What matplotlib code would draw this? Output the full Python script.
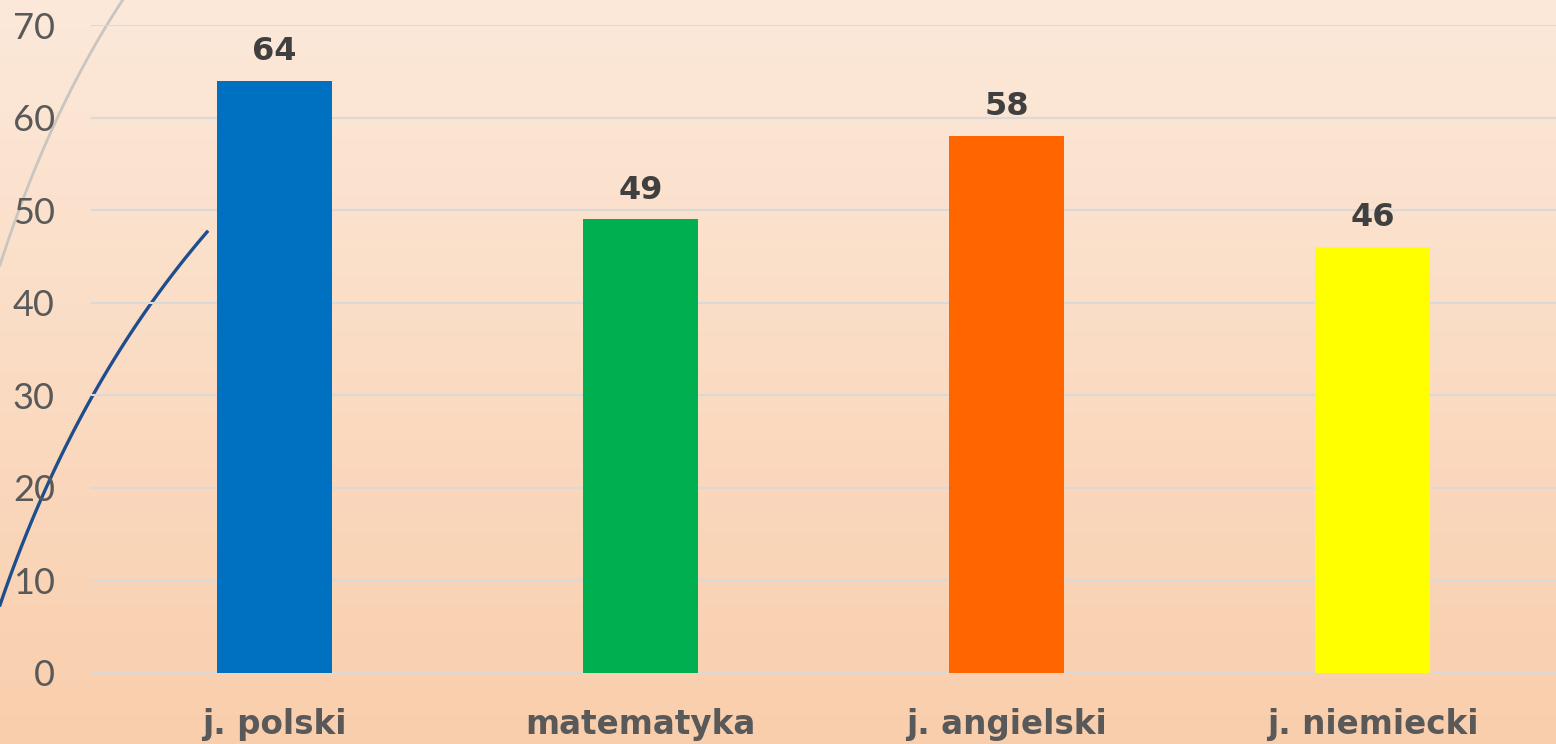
import matplotlib.pyplot as plt
import numpy as np
from matplotlib.colors import LinearSegmentedColormap

subjects = ['j. polski', 'matematyka', 'j. angielski', 'j. niemiecki']
scores = [64, 49, 58, 46]
colors = ['#0070c0', '#00b050', '#ff6600', '#ffff00']
yticks = [0, 10, 20, 30, 40, 50, 60, 70]

W, H = 1556, 744
fig = plt.figure(figsize=(W / 100, H / 100), dpi=100)

# slide background gradient + decorative curves
bg = fig.add_axes([0, 0, 1, 1])
cmap = LinearSegmentedColormap.from_list('bg', ['#fce9da', '#f9ceac'])
bg.imshow(np.linspace(0, 1, 256).reshape(-1, 1), aspect='auto', cmap=cmap,
          extent=[0, W, H, 0])
bg.set_xlim(0, W)
bg.set_ylim(H, 0)
bg.axis('off')

t = np.linspace(0, 1, 100)
def bez(p0, p1, p2):
    return ((1 - t) ** 2 * p0[0] + 2 * (1 - t) * t * p1[0] + t ** 2 * p2[0],
            (1 - t) ** 2 * p0[1] + 2 * (1 - t) * t * p1[1] + t ** 2 * p2[1])

gx, gy = bez((124, -2), (50, 110), (0, 265))
bg.plot(gx, gy, color='#c9c5c0', lw=2)
bx, by = bez((207, 232), (75, 385), (0, 605))
bg.plot(bx, by, color='#1f4e8c', lw=2.4)

ax = fig.add_axes([91 / W, (H - 673) / H, 1465 / W, 648 / H])
ax.patch.set_alpha(0)
x = np.arange(len(subjects))
ax.bar(x, scores, width=0.314, color=colors, zorder=3)
for xi, v in zip(x, scores):
    ax.text(xi, v + 1.5, str(v), ha='center', va='bottom', fontsize=23,
            fontweight='bold', color='#404040', family='DejaVu Sans')

ax.set_xlim(-0.5, 3.5)
ax.set_ylim(0, 70)
ax.set_yticks(yticks)
ax.set_xticks(x)
ax.set_xticklabels(subjects, fontsize=23.5, fontweight='bold', color='#595959',
                   family='DejaVu Sans')
ax.tick_params(axis='x', length=0, pad=25)
ax.tick_params(axis='y', length=0, pad=26, labelsize=26, labelcolor='#595959')
for lab in ax.get_yticklabels():
    lab.set_family('Lato')
ax.grid(axis='y', color='#d9d9d9', lw=1.5, zorder=0)
for s in ax.spines.values():
    s.set_visible(False)

fig.savefig('out.png', dpi=100)
